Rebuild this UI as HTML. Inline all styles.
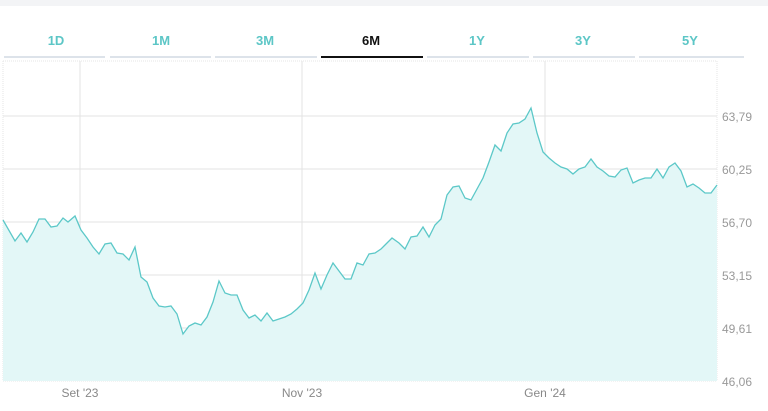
<!DOCTYPE html>
<html><head><meta charset="utf-8"><style>
body{margin:0;background:#fff;width:768px;height:411px;overflow:hidden;font-family:"Liberation Sans",sans-serif}
</style></head><body>
<svg width="768" height="411" xmlns="http://www.w3.org/2000/svg" style="position:absolute;left:0;top:0">
<rect x="0" y="0" width="768" height="6" fill="#f3f4f6"/>
<g font-size="13" text-anchor="middle" fill="#5cc6c6" font-weight="bold">
<text x="56" y="45">1D</text><text x="161" y="45">1M</text><text x="265" y="45">3M</text>
<text x="371" y="45" fill="#111">6M</text><text x="477" y="45">1Y</text><text x="583" y="45">3Y</text><text x="690" y="45">5Y</text>
</g>
<g stroke="#dde3ea" stroke-width="2">
<line x1="4" y1="57" x2="105" y2="57"/><line x1="110" y1="57" x2="211" y2="57"/><line x1="215" y1="57" x2="317" y2="57"/>
<line x1="427" y1="57" x2="529" y2="57"/><line x1="533" y1="57" x2="635" y2="57"/><line x1="639" y1="57" x2="744" y2="57"/>
</g>
<line x1="321" y1="57" x2="423" y2="57" stroke="#111" stroke-width="2"/>
<g stroke="#e3e3e3" stroke-width="1">
<line x1="3" y1="116" x2="717" y2="116"/><line x1="3" y1="169" x2="717" y2="169"/><line x1="3" y1="222" x2="717" y2="222"/>
<line x1="3" y1="275" x2="717" y2="275"/><line x1="3" y1="328" x2="717" y2="328"/>
<line x1="80" y1="61" x2="80" y2="381"/><line x1="302" y1="61" x2="302" y2="381"/><line x1="545" y1="61" x2="545" y2="381"/>
</g>
<g stroke="#e6e6e6" stroke-dasharray="1,1"><line x1="3" y1="61" x2="3" y2="381"/><line x1="717" y1="61" x2="717" y2="381"/><line x1="3" y1="381" x2="717" y2="381"/><line x1="3" y1="61" x2="717" y2="61"/></g>
<path fill="#e3f7f7" stroke="none" d="M3,220 L15,241 21,233 27,242 33,232 39,219 45,219 51,227 57,226 63,218 68,222 75,216 81,230 87,238 93,247 99,254 105,244 111,243 117,253 123,254 129,260 135,247 141,277 147,282 153,298 159,306 165,307 171,306 177,314 183,334 189,326 195,323 201,325 207,317 213,302 219,281 225,293 231,295 237,295 243,310 249,318 255,315 261,321 267,313 273,321 279,319 285,317 291,314 297,309 303,303 309,290 315,273 321,289 327,275 333,263 339,271 345,279 351,279 357,263 363,265 369,254 375,253 381,249 384,246 392,238 399,243 405,249 411,237 417,236 423,227 429,237 435,225 441,219 447,195 453,187 459,186 465,198 471,200 477,189 483,178 489,162 495,145 501,151 507,133 513,124 519,123 525,119 531,108 537,133 543,152 549,158 555,163 561,167 567,169 573,174 579,169 585,167 591,159 597,167 603,171 609,176 615,177 621,170 627,168 633,183 639,180 645,178 651,178 657,169 663,178 669,167 675,163 681,171 687,187 693,184 699,188 705,193 711,193 717,185 L717,381 L3,381 Z"/>
<polyline fill="none" stroke="#5cc8c8" stroke-width="1.3" points="3,220 15,241 21,233 27,242 33,232 39,219 45,219 51,227 57,226 63,218 68,222 75,216 81,230 87,238 93,247 99,254 105,244 111,243 117,253 123,254 129,260 135,247 141,277 147,282 153,298 159,306 165,307 171,306 177,314 183,334 189,326 195,323 201,325 207,317 213,302 219,281 225,293 231,295 237,295 243,310 249,318 255,315 261,321 267,313 273,321 279,319 285,317 291,314 297,309 303,303 309,290 315,273 321,289 327,275 333,263 339,271 345,279 351,279 357,263 363,265 369,254 375,253 381,249 384,246 392,238 399,243 405,249 411,237 417,236 423,227 429,237 435,225 441,219 447,195 453,187 459,186 465,198 471,200 477,189 483,178 489,162 495,145 501,151 507,133 513,124 519,123 525,119 531,108 537,133 543,152 549,158 555,163 561,167 567,169 573,174 579,169 585,167 591,159 597,167 603,171 609,176 615,177 621,170 627,168 633,183 639,180 645,178 651,178 657,169 663,178 669,167 675,163 681,171 687,187 693,184 699,188 705,193 711,193 717,185"/>
<g font-size="12" fill="#999">
<text x="722" y="121">63,79</text><text x="722" y="174">60,25</text><text x="722" y="227">56,70</text>
<text x="722" y="280">53,15</text><text x="722" y="333">49,61</text><text x="722" y="386">46,06</text>
</g>
<g font-size="12" fill="#888" text-anchor="middle">
<text x="80" y="397">Set '23</text><text x="302" y="397">Nov '23</text><text x="545" y="397">Gen '24</text>
</g>
</svg>
</body></html>
